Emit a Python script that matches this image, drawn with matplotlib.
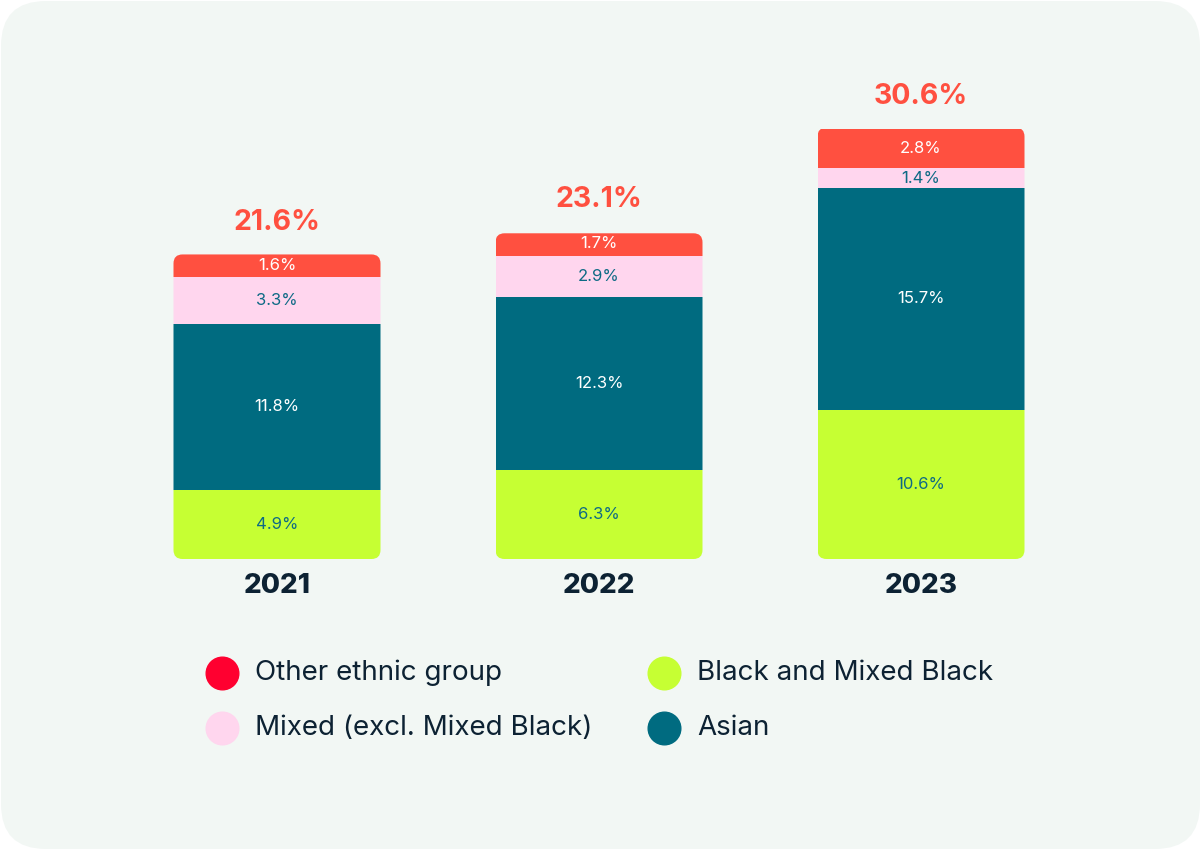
import matplotlib
matplotlib.use("Agg")
import matplotlib.pyplot as plt
from matplotlib.patches import FancyBboxPatch
import numpy as np

plt.rcParams['font.family'] = ['Inter', 'DejaVu Sans']

# --- données ---
annees = ['2021', '2022', '2023']
groupes = ['Black and Mixed Black', 'Asian', 'Mixed (excl. Mixed Black)', 'Other ethnic group']
noir = [4.9, 6.3, 10.6]
asiatique = [11.8, 12.3, 15.7]
mixte = [3.3, 2.9, 1.4]
autre = [1.6, 1.7, 2.8]
totaux = [21.6, 23.1, 30.6]

couleurs = ['#C6FF33', '#006B80', '#FFD6EE', '#FF5040']
couleurs_texte = ['#0E6A85', 'white', '#0E6A85', 'white']
couleur_legende_autre = '#FF0030'
fond = '#F2F7F4'
sombre = '#0D2233'

W, H = 1201, 850
fig = plt.figure(figsize=(W / 100, H / 100), dpi=100)
fig.patch.set_facecolor('white')

# fond arrondi
fig.patches.append(FancyBboxPatch((1 / W, 1 / H), 1 - 2 / W, 1 - 2 / H,
                                  boxstyle=f"round,pad=0,rounding_size={45 / W}",
                                  mutation_aspect=W / H, transform=fig.transFigure,
                                  facecolor=fond, edgecolor='none', zorder=-5))

ax = fig.add_axes([0, 0, 1, 1])
ax.set_facecolor('none')
ax.axis('off')
ax.set_zorder(2)

# échelle : 322 px entre barres, ~14.1 px par point de %
px_x = 322
px_y = 14.1
ax.set_xlim(-277 / px_x, (W - 277) / px_x)
ax.set_ylim(-(H - 559) / px_y, 559 / px_y)

x = np.arange(len(annees))
largeur = 207 / px_x
series = [noir, asiatique, mixte, autre]

for i in range(len(annees)):
    # contour arrondi de la pile complète
    clip = FancyBboxPatch((x[i] - largeur / 2, 0), largeur, totaux[i],
                          boxstyle=f"round,pad=0,rounding_size={9 / px_x}",
                          mutation_aspect=px_x / px_y,
                          facecolor='none', edgecolor='none', transform=ax.transData)
    ax.add_patch(clip)
    b = 0
    for s, vals in enumerate(series):
        v = vals[i]
        barre = ax.bar(x[i], v, largeur, bottom=b, color=couleurs[s], linewidth=0)
        barre[0].set_clip_path(clip)
        ax.text(x[i], b + v / 2, f"{v}%", ha='center', va='center',
                fontsize=12, color=couleurs_texte[s])
        b += v
    ax.text(x[i], b + 2.3, f"{totaux[i]}%", ha='center', va='center',
            fontsize=20.5, fontweight='bold', color='#FF5040')
    ax.text(x[i], -1.95, annees[i], ha='center', va='center',
            fontsize=20, fontweight='heavy', color=sombre)

# --- légende ---
legende = [('Other ethnic group', couleur_legende_autre, 222, 673),
           ('Mixed (excl. Mixed Black)', couleurs[2], 222, 728),
           ('Black and Mixed Black', couleurs[0], 664, 673),
           ('Asian', couleurs[1], 664, 728)]
for nom, c, px, py in legende:
    fig.lines.append(plt.Line2D([px / W], [1 - py / H], marker='o', markersize=23.5,
                                color=c, linestyle='none', transform=fig.transFigure))
    fig.text((px + 33) / W, 1 - py / H, nom, ha='left', va='center',
             fontsize=20, color=sombre)

fig.savefig('out.png', dpi=100, facecolor=fig.get_facecolor())
